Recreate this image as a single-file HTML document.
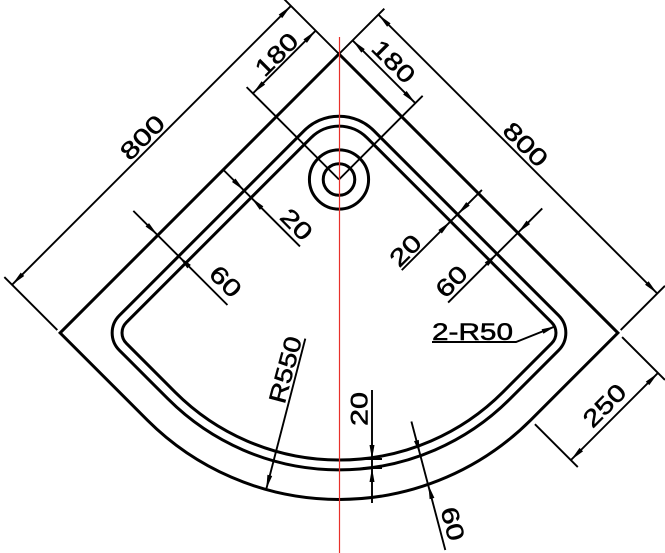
<!DOCTYPE html>
<html><head><meta charset="utf-8"><style>
html,body{margin:0;padding:0;background:#fff;width:665px;height:553px;overflow:hidden;}
svg{display:block;}
text{font-family:"Liberation Sans",sans-serif;font-size:24px;fill:#000;stroke:#000;stroke-width:0.5px;}
</style></head><body>
<svg width="665" height="553" viewBox="0 0 665 553" xmlns="http://www.w3.org/2000/svg">
<g transform="translate(339,54) rotate(45) scale(0.493)" fill="none" stroke="#000">
<g stroke-width="3">
<path vector-effect="non-scaling-stroke" d="M0,0 L800,0 L800,250 A550,550 0 0 1 250,800 L0,800 Z"/>
<path vector-effect="non-scaling-stroke" d="M60,160 A100,100 0 0 1 160,60 L690,60 A50,50 0 0 1 740,110 L740,250 A490,490 0 0 1 250,740 L110,740 A50,50 0 0 1 60,690 Z"/>
<path vector-effect="non-scaling-stroke" d="M80,160 A80,80 0 0 1 160,80 L690,80 A30,30 0 0 1 720,110 L720,250 A470,470 0 0 1 250,720 L110,720 A30,30 0 0 1 80,690 Z"/>
<circle vector-effect="non-scaling-stroke" cx="180" cy="180" r="60"/>
<circle vector-effect="non-scaling-stroke" cx="180" cy="180" r="32"/>
</g>
<g stroke-width="1.9">
<path vector-effect="non-scaling-stroke" d="M-160,0 L0,0 M0,-130 L0,0 M-8,800 L-160,800 M800,-8 L800,-135 M812,0 L935,0 M812,250 L935,250 M180,180 L-85,180 M180,180 L180,-60"/>
<path vector-effect="non-scaling-stroke" d="M-67,0 L-67,180 M0,-39 L180,-39 M-138,0 L-138,800 M0,-113 L800,-113 M915,0 L915,250"/>
<path vector-effect="non-scaling-stroke" d="M0,332 L220,332 M-70,520 L200,520 M400,-10 L400,220 M513,-70 L513,200"/>
</g>
</g>
<g transform="translate(339,54) rotate(45) scale(0.493)" fill="#000" stroke="none">
<polygon points="-67,0 -72,30 -62,30"/>
<polygon points="-67,180 -72,150 -62,150"/>
<polygon points="0,-39 30,-44 30,-34"/>
<polygon points="180,-39 150,-44 150,-34"/>
<polygon points="-138,0 -143,30 -133,30"/>
<polygon points="-138,800 -143,770 -133,770"/>
<polygon points="0,-113 30,-118 30,-108"/>
<polygon points="800,-113 770,-118 770,-108"/>
<polygon points="915,0 910,30 920,30"/>
<polygon points="915,250 910,220 920,220"/>
<polygon points="60,332 30,327 30,337"/>
<polygon points="80,332 110,327 110,337"/>
<polygon points="0,520 -30,515 -30,525"/>
<polygon points="60,520 90,515 90,525"/>
<polygon points="400,60 395,30 405,30"/>
<polygon points="400,80 395,110 405,110"/>
<polygon points="513,0 508,-30 518,-30"/>
<polygon points="513,60 508,90 518,90"/>
</g>
<line x1="339.5" y1="37" x2="339.5" y2="553" stroke="#e8302a" stroke-width="1.2"/>
<g fill="none" stroke="#000" stroke-width="1.9">
<path d="M372,390 L372,503"/>
<path d="M363,459 L382,459 M363,468 L382,468"/>
<path d="M411.4,421.5 L445.3,550"/>
<path d="M305.3,338.6 L266.3,489"/>
<path d="M432,342 L516,342 L555.5,326.3"/>
</g>
<g fill="#000">
<polygon points="372,459 369.5,445 374.5,445"/>
<polygon points="372,468 369.5,482 374.5,482"/>
<polygon points="420,454 418.8,439.9 414,441.1"/>
<polygon points="428.4,485 434.4,497.9 429.6,499.1"/>
<polygon points="266.3,489 272.2,476 267.4,474.8"/>
<polygon points="555.5,326.3 543.4,333.8 541.6,329.2"/>
</g>
<g text-anchor="middle" dominant-baseline="central">
<text transform="translate(143,138) rotate(-45)" textLength="52" lengthAdjust="spacingAndGlyphs">800</text>
<text transform="translate(277,55) rotate(-45)" textLength="50" lengthAdjust="spacingAndGlyphs">180</text>
<text transform="translate(393,62) rotate(45)" textLength="50" lengthAdjust="spacingAndGlyphs">180</text>
<text transform="translate(525,145) rotate(45)" textLength="52" lengthAdjust="spacingAndGlyphs">800</text>
<text transform="translate(296,225) rotate(45)" textLength="34" lengthAdjust="spacingAndGlyphs">20</text>
<text transform="translate(225,282) rotate(45)" textLength="34" lengthAdjust="spacingAndGlyphs">60</text>
<text transform="translate(406,251) rotate(-45)" textLength="34" lengthAdjust="spacingAndGlyphs">20</text>
<text transform="translate(452,282) rotate(-45)" textLength="34" lengthAdjust="spacingAndGlyphs">60</text>
<text transform="translate(605,406) rotate(-45)" textLength="50" lengthAdjust="spacingAndGlyphs">250</text>
<text transform="translate(360,409) rotate(-90)" textLength="34" lengthAdjust="spacingAndGlyphs">20</text>
<text transform="translate(452,524) rotate(75)" textLength="34" lengthAdjust="spacingAndGlyphs">60</text>
<text transform="translate(286,370) rotate(-75)" textLength="68" lengthAdjust="spacingAndGlyphs">R550</text>
</g>
<text x="432" y="340" textLength="81" lengthAdjust="spacingAndGlyphs">2-R50</text>
</svg>
</body></html>
